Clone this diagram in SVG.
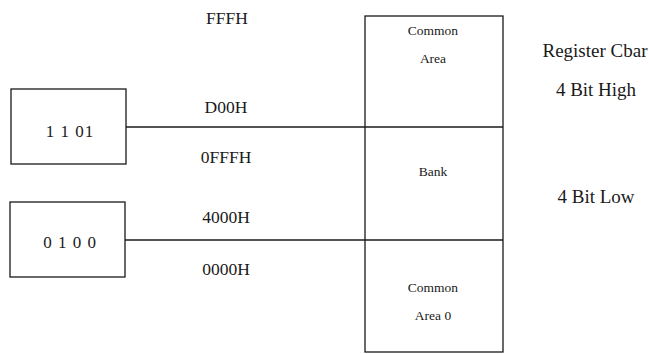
<svg xmlns="http://www.w3.org/2000/svg" width="649" height="354" viewBox="0 0 649 354">
  <style>
    .box { fill: none; stroke: #1a1a1a; stroke-width: 1.3; }
    .wire { fill: none; stroke: #1a1a1a; stroke-width: 1.6; }
    .t { font-family: "Liberation Serif", "Times New Roman", serif; fill: #1a1a1a; text-anchor: middle; }
    .addr { font-size: 17.5px; }
    .bits { font-size: 17px; letter-spacing: 1px; }
    .mem { font-size: 13.5px; }
    .side { font-size: 19px; }
  </style>
  <rect width="649" height="354" fill="#ffffff"/>

  <!-- register bit patterns -->
  <g id="reg-high">
    <rect class="box" x="11" y="89" width="115" height="75"/>
    <text class="t bits" x="70" y="137">1 1 01</text>
  </g>
  <g id="reg-low">
    <rect class="box" x="10" y="202" width="115" height="75"/>
    <text class="t bits" x="70" y="248">0 1 0 0</text>
  </g>

  <!-- memory map -->
  <g id="memory">
    <rect class="box" x="365" y="16" width="138" height="336"/>
  </g>
  <g id="common-area">
    <text class="t mem" x="433" y="35">Common</text>
    <text class="t mem" x="433" y="63">Area</text>
  </g>
  <g id="bank">
    <text class="t mem" x="433" y="176">Bank</text>
  </g>
  <g id="common-area-0">
    <text class="t mem" x="433" y="292">Common</text>
    <text class="t mem" x="433" y="320">Area 0</text>
  </g>

  <!-- boundary lines -->
  <g id="connectors">
    <line class="wire" x1="126" y1="127" x2="503" y2="127"/>
    <line class="wire" x1="125" y1="240" x2="503" y2="240"/>
  </g>

  <!-- addresses -->
  <g id="addresses">
    <text class="t addr" x="227" y="24">FFFH</text>
    <text class="t addr" x="226" y="113">D00H</text>
    <text class="t addr" x="226" y="163">0FFFH</text>
    <text class="t addr" x="226" y="223">4000H</text>
    <text class="t addr" x="226" y="275">0000H</text>
  </g>

  <!-- register labels -->
  <g id="cbar">
    <text class="t side" x="595" y="57">Register Cbar</text>
    <text class="t side" x="596" y="96">4 Bit High</text>
    <text class="t side" x="596" y="203">4 Bit Low</text>
  </g>
</svg>
